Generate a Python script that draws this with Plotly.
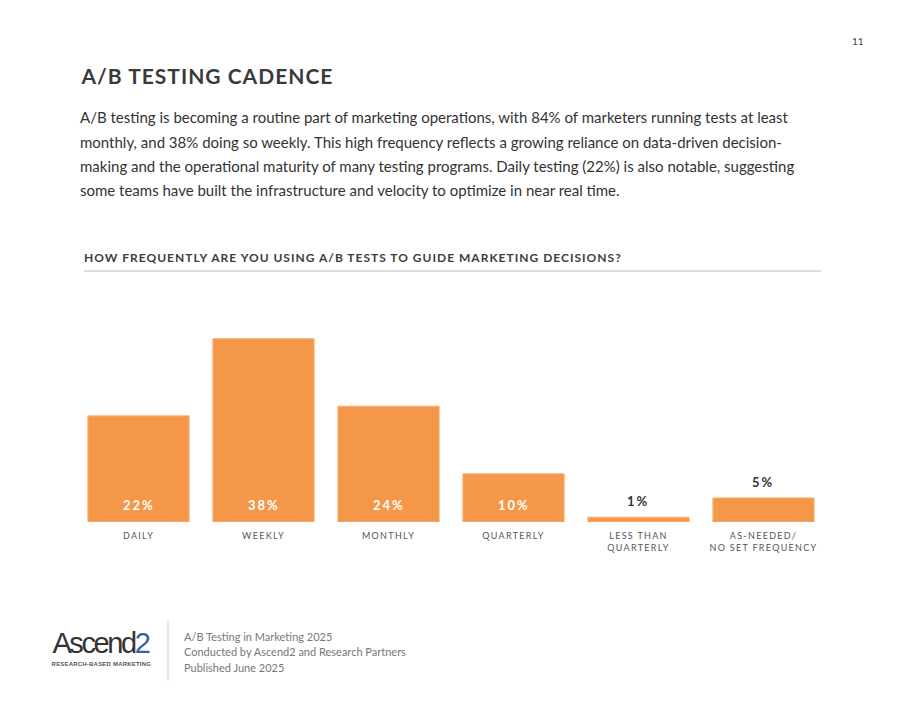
import plotly.graph_objects as go

categories = ["DAILY", "WEEKLY", "MONTHLY", "QUARTERLY", "LESS THAN<br>QUARTERLY", "AS-NEEDED/<br>NO SET FREQUENCY"]
values = [22, 38, 24, 10, 1, 5]

page_number = "11"
title = "A/B TESTING CADENCE"
paragraph = [
    "A/B testing is becoming a routine part of marketing operations, with 84% of marketers running tests at least",
    "monthly, and 38% doing so weekly. This high frequency reflects a growing reliance on data-driven decision-",
    "making and the operational maturity of many testing programs. Daily testing (22%) is also notable, suggesting",
    "some teams have built the infrastructure and velocity to optimize in near real time.",
]
question = "HOW FREQUENTLY ARE YOU USING A/B TESTS TO GUIDE MARKETING DECISIONS?"
footer = [
    "A/B Testing in Marketing 2025",
    "Conducted by Ascend2 and Research Partners",
    "Published June 2025",
]
logo_word = "Ascend"
logo_digit = "2"
logo_tagline = "RESEARCH-BASED MARKETING"

FONT = "Lato"
ORANGE = "#F59748"
W, H = 920, 711
PL, PR, PT, PB = 76, 826, 329, 522  # plot area in pixels


def px(x):
    return (x - PL) / (PR - PL)


def py(y):
    return (PB - y) / (PB - PT)


fig = go.Figure()
fig.add_trace(go.Bar(
    x=categories, y=values,
    marker=dict(color=ORANGE, line=dict(color="#F9B27A", width=1)),
    hoverinfo="skip", showlegend=False,
))

annotations = []
spaced = {}  # annotation index -> letter spacing


def add_ann(spacing=None, nchars=0, **kw):
    if spacing is not None:
        spaced[len(annotations)] = f"{spacing}px"
        if kw.get("xanchor") == "left":
            kw["xshift"] = kw.get("xshift", 0) + nchars * spacing / 2
    annotations.append(kw)


# value labels
for c, v in zip(categories, values):
    if v >= 10:
        add_ann(spacing=2, x=c, y=0, xref="x", yref="y", text=f"<b>{v}%</b>", showarrow=False,
                yanchor="bottom", yshift=7, font=dict(family=FONT, size=13, color="white"))
    else:
        add_ann(spacing=2, x=c, y=v, xref="x", yref="y", text=f"<b>{v}%</b>", showarrow=False,
                yanchor="bottom", yshift=6, font=dict(family=FONT, size=13, color="#333333"))

# page number
add_ann(x=px(866), y=py(41), xref="paper", yref="paper", text=page_number, showarrow=False,
        xanchor="right", yanchor="middle", font=dict(family=FONT, size=10, color="#444444"))
# title
add_ann(spacing=1, nchars=len(title), x=px(80), y=py(75), xref="paper", yref="paper", text=f"<b>{title}</b>",
        showarrow=False, xanchor="left", yanchor="middle", xshift=-2,
        font=dict(family=FONT, size=21, color="#3a3a3a"))
# paragraph lines
for i, line in enumerate(paragraph):
    add_ann(x=px(80), y=py(117 + i * 24.5), xref="paper", yref="paper", text=line, showarrow=False,
            xanchor="left", yanchor="middle", xshift=-2, font=dict(family=FONT, size=15, color="#333333"))
# question
add_ann(spacing=1, nchars=len(question), x=px(84), y=py(257), xref="paper", yref="paper",
        text=f"<b>{question}</b>", showarrow=False, xanchor="left", yanchor="middle", xshift=-2,
        font=dict(family=FONT, size=12, color="#3d3d3d"))
# footer text
for i, line in enumerate(footer):
    add_ann(x=px(184), y=py(636 + i * 15.5), xref="paper", yref="paper", text=line, showarrow=False,
            xanchor="left", yanchor="middle", xshift=-2, font=dict(family=FONT, size=11, color="#777777"))
# logo
add_ann(spacing=-2.4, nchars=len(logo_word) + 1, x=px(53), y=py(643), xref="paper", yref="paper",
        text=f"{logo_word}<span style='color:#3c5ea8'>{logo_digit}</span>", showarrow=False,
        xanchor="left", yanchor="middle", xshift=-2, borderpad=0,
        font=dict(family="Liberation Sans", size=29, color="#333333"))
add_ann(spacing=0.2, nchars=len(logo_tagline), x=px(53), y=py(664), xref="paper", yref="paper",
        text=f"<b>{logo_tagline}</b>", showarrow=False, xanchor="left", yanchor="middle", xshift=-2,
        borderpad=0, font=dict(family="Liberation Sans", size=6, color="#555555"))

shapes = [
    dict(type="line", xref="paper", yref="paper", x0=px(84), x1=px(821), y0=py(271), y1=py(271),
         line=dict(color="#bbbbbb", width=1)),
    dict(type="line", xref="paper", yref="paper", x0=px(168), x1=px(168), y0=py(621), y1=py(681),
         line=dict(color="#cccccc", width=1)),
]

fig.update_layout(
    width=W, height=H,
    margin=dict(l=PL, r=W - PR, t=PT, b=H - PB, pad=0),
    paper_bgcolor="white", plot_bgcolor="white",
    bargap=0.19,
    annotations=annotations, shapes=shapes,
    xaxis=dict(showgrid=False, zeroline=False, showline=False, ticks="", ticklabelstandoff=7,
               tickfont=dict(family=FONT, size=9, color="#555555"), fixedrange=True),
    yaxis=dict(range=[0, 40], visible=False, fixedrange=True),
    font=dict(family=FONT),
)

spaced_js = ",".join(f"[{k},'{v}']" for k, v in spaced.items())
post_script = """
(function(){
  var gd = document.getElementById('{plot_id}');
  function apply(){
    gd.querySelectorAll('.xtick text').forEach(function(t){ t.style.letterSpacing='1.3px'; });
    var sp = [%s];
    sp.forEach(function(p){
      var g = gd.querySelector('g.annotation[data-index="'+p[0]+'"]');
      if(g){ g.querySelectorAll('text').forEach(function(t){ t.style.letterSpacing=p[1]; }); }
    });
  }
  apply();
  gd.on && gd.on('plotly_afterplot', apply);
})();
""" % spaced_js

fig.write_html("out.html", config={"displayModeBar": False}, post_script=post_script)
